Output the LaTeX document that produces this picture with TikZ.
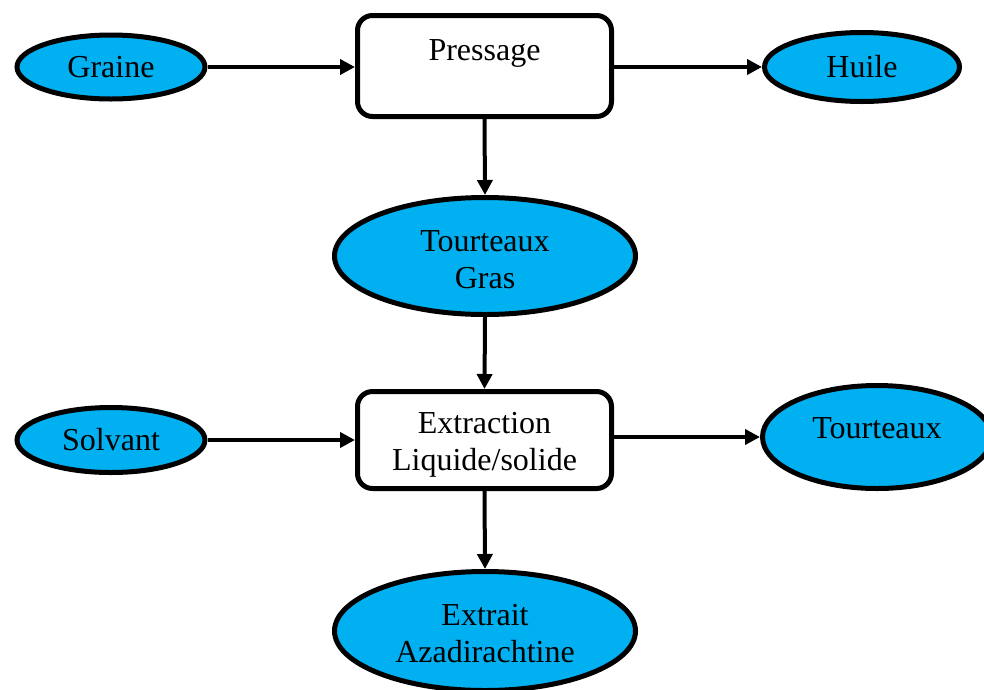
\documentclass[tikz,border=0pt]{standalone}
\usepackage{fontspec}
\setmainfont{Liberation Serif}
\usetikzlibrary{shapes.geometric,arrows.meta}
\definecolor{fillblue}{HTML}{00B0F0}
\begin{document}
\begin{tikzpicture}[x=1pt,y=-1pt,
  every node/.style={font=\fontsize{32}{37}\selectfont, align=center, inner sep=0pt},
  product/.style={ellipse, draw=black, line width=5pt, fill=fillblue},
  process/.style={rectangle, rounded corners=15pt, draw=black, line width=5pt, fill=white,
                  minimum width=254pt, minimum height=101pt},
  twolines/.style={text height=69pt, text depth=7pt},
  flow/.style={line width=4pt, -{Triangle[length=15pt,width=15pt]}}]
  \useasboundingbox (0,0) rectangle (984,689);

  % process steps
  \node[process, text height=22pt, text depth=33pt] (press) at (484.5,66) {Pressage};
  \node[process, minimum height=97pt, text height=67pt, text depth=7pt] (extr) at (484.5,440) {Extraction\\Liquide/solide};

  % inputs and products
  \node[product, minimum width=188pt, minimum height=64pt] (graine) at (111,67) {Graine};
  \node[product, minimum width=195pt, minimum height=69pt] (huile) at (862,67) {Huile};
  \node[product, minimum width=301pt, minimum height=117pt, text height=71pt, text depth=7pt] (tgras) at (485,256) {Tourteaux\\Gras};
  \node[product, minimum width=188pt, minimum height=65pt] (solv) at (111,440) {Solvant};
  \node[product, minimum width=229pt, minimum height=103pt, text height=22pt, text depth=20pt] (tourt) at (877,437) {Tourteaux};
  \node[product, minimum width=301pt, minimum height=119pt, twolines] (extrait) at (485,631) {Extrait\\Azadirachtine};

  % connectors
  \draw[flow] (graine.east) -- (graine.east -| press.west);
  \draw[flow] (huile.west -| press.east) -- (huile.west);
  \draw[flow] (press.south) -- (tgras.north);
  \draw[flow] (tgras.south) -- (extr.north);
  \draw[flow] (solv.east) -- (solv.east -| extr.west);
  \draw[flow] (tourt.west -| extr.east) -- (tourt.west);
  \draw[flow] (extr.south) -- (extrait.north);
\end{tikzpicture}
\end{document}
